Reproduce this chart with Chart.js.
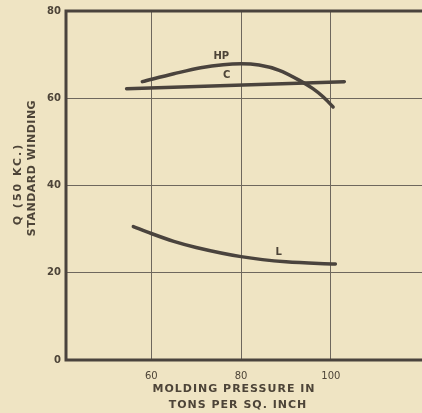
<!DOCTYPE html>
<html>
<head>
<meta charset="utf-8">
<script src="https://cdn.jsdelivr.net/npm/chart.js@4"></script>
<style>
  html, body { margin: 0; padding: 0; background: #efe4c3; }
  #wrap { width: 422px; height: 413px; position: relative; }
</style>
</head>
<body>
<div id="wrap"><canvas id="qChart" width="422" height="413"></canvas></div>
<script>
// values (molding pressure, Q)
const hpPressure = [58, 65, 71, 76, 80, 84, 88.5, 93, 96, 98.2, 100.5];
const hpQ = [63.8, 65.6, 67, 67.7, 67.9, 67.6, 66.4, 64.1, 62.2, 60.4, 58];
const cPressure = [54.5, 103];
const cQ = [62.2, 63.8];
const lPressure = [56, 60, 65, 70, 80, 90, 101];
const lQ = [30.6, 29, 27.2, 25.8, 23.7, 22.5, 22];
const xTicks = [60, 80, 100];
const yTicks = [0, 20, 40, 60, 80];
const curveLabels = [
    { text: 'HP', x: 75.6, y: 69.6 },
    { text: 'C', x: 76.8, y: 65.2 },
    { text: 'L', x: 88.4, y: 24.6 }
];

const ink = '#4a433d';
const gridInk = '#6e675d';
const textInk = '#4d4438';

function toPoints(xs, ys) {
    return xs.map((x, i) => ({ x: x, y: ys[i] }));
}

const textPlugin = {
    id: 'paperText',
    beforeDraw(chart) {
        const c = chart.ctx;
        c.save();
        c.fillStyle = '#efe4c3';
        c.fillRect(0, 0, chart.width, chart.height);
        c.restore();
    },
    afterDraw(chart) {
        const c = chart.ctx;
        const xs = chart.scales.x;
        const ys = chart.scales.y;
        const area = chart.chartArea;
        c.save();
        c.fillStyle = textInk;
        c.textAlign = 'center';
        c.textBaseline = 'middle';

        // curve labels
        c.font = 'bold 10px "DejaVu Sans"';
        curveLabels.forEach(l => {
            c.fillText(l.text, xs.getPixelForValue(l.x), ys.getPixelForValue(l.y));
        });

        // axis frame (right side runs off the page)
        c.strokeStyle = ink;
        c.lineWidth = 3;
        c.beginPath();
        c.moveTo(chart.width, area.top);
        c.lineTo(area.left, area.top);
        c.lineTo(area.left, area.bottom);
        c.lineTo(chart.width, area.bottom);
        c.stroke();

        // x title
        c.font = 'bold 11px "DejaVu Sans"';
        c.letterSpacing = '1px';
        c.fillText('MOLDING PRESSURE IN', 234, 389);
        c.fillText('TONS PER SQ. INCH', 238, 405);

        // y title
        c.translate(18, 184);
        c.rotate(-Math.PI / 2);
        c.letterSpacing = '2px';
        c.fillText('Q (50 KC.)', 0, 0);
        c.restore();
        c.save();
        c.fillStyle = textInk;
        c.textAlign = 'center';
        c.textBaseline = 'middle';
        c.font = 'bold 11px "DejaVu Sans"';
        c.letterSpacing = '0.5px';
        c.translate(32, 168);
        c.rotate(-Math.PI / 2);
        c.fillText('STANDARD WINDING', 0, 0);
        c.restore();
    }
};

const lineStyle = {
    borderColor: ink,
    borderWidth: 3.5,
    pointRadius: 0,
    fill: false,
    cubicInterpolationMode: 'monotone',
    borderCapStyle: 'round'
};

new Chart(document.getElementById('qChart'), {
    type: 'line',
    data: {
        datasets: [
            Object.assign({ label: 'HP', data: toPoints(hpPressure, hpQ) }, lineStyle),
            Object.assign({ label: 'C', data: toPoints(cPressure, cQ) }, lineStyle),
            Object.assign({ label: 'L', data: toPoints(lPressure, lQ) }, lineStyle)
        ]
    },
    options: {
        responsive: false,
        animation: false,
        layout: { padding: { top: 10, right: 0, left: 0, bottom: 0 } },
        plugins: {
            legend: { display: false },
            tooltip: { enabled: false }
        },
        scales: {
            x: {
                type: 'linear',
                min: 41,
                max: 120.3,
                afterBuildTicks: s => { s.ticks = xTicks.map(v => ({ value: v })); },
                afterFit: s => { s.height = 53; s.paddingLeft = 0; s.paddingRight = 0; },
                grid: { color: gridInk, lineWidth: 1, drawTicks: false },
                border: { display: false },
                ticks: {
                    color: textInk,
                    font: { family: 'DejaVu Sans', size: 10 },
                    padding: 10,
                    maxRotation: 0
                }
            },
            y: {
                min: 0,
                max: 80,
                afterBuildTicks: s => { s.ticks = yTicks.map(v => ({ value: v })); },
                afterFit: s => { s.width = 66; },
                grid: { color: gridInk, lineWidth: 1, drawTicks: false },
                border: { display: false },
                ticks: {
                    color: textInk,
                    font: { family: 'DejaVu Sans', size: 10, weight: 'bold' },
                    padding: 5
                }
            }
        }
    },
    plugins: [textPlugin]
});
</script>
</body>
</html>
